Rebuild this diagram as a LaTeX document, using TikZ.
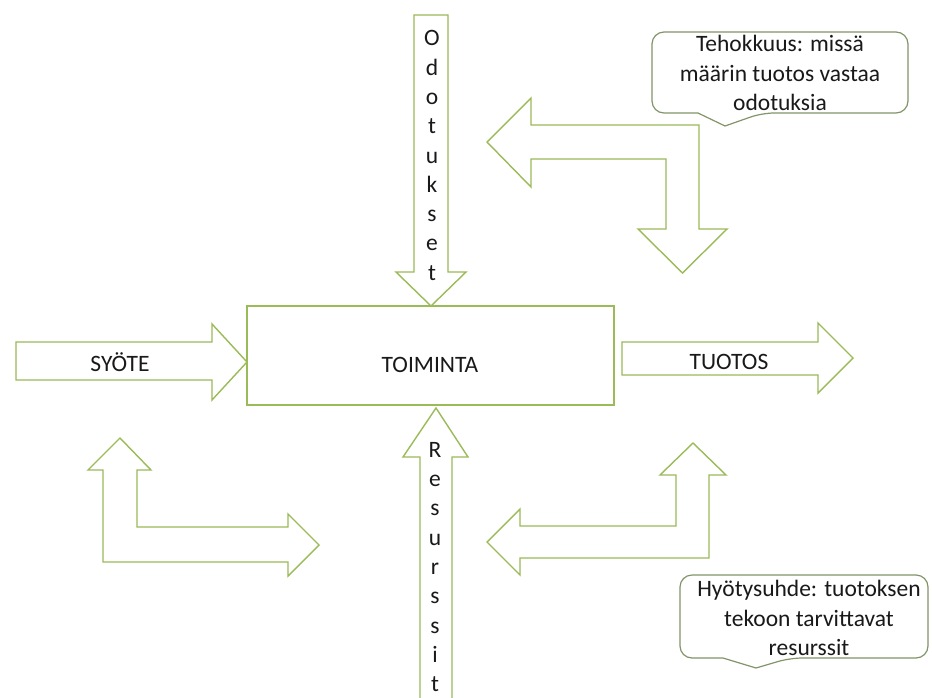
\documentclass[tikz,border=0pt]{standalone}
\usepackage{fontspec}
\setmainfont{Carlito}
\definecolor{arrowgreen}{RGB}{155,187,89}
\definecolor{calloutline}{RGB}{130,148,105}
\definecolor{txtgray}{RGB}{25,25,25}
\begin{document}
\begin{tikzpicture}[x=1pt,y=-1pt,
  blockarrow/.style={draw=arrowgreen, line width=1.4pt, fill=white, line join=miter},
  calloutbox/.style={draw=calloutline, line width=1.2pt, fill=white},
  txt/.style={text=txtgray, font=\fontsize{23.5}{29.3}\selectfont, inner sep=0pt},
  vtxt/.style={txt, align=center}]
\fill[white] (0,0) rectangle (932,697);
\useasboundingbox (0,0) rectangle (932,697);

% central box
\node[draw=arrowgreen, line width=1.4pt, minimum width=367pt, minimum height=99pt, inner sep=0pt] (box) at (430.5,355.5) {};
\node[txt] (toiminta) at (430,365) {TOIMINTA};

% SYOTE arrow
\draw[blockarrow] (16,342) -- (212,342) -- (212,324) -- (247,362) -- (212,400) -- (212,380) -- (16,380) -- cycle;
\node[txt] (syote) at (120,362) {SYÖTE};

% TUOTOS arrow
\draw[blockarrow] (622,342) -- (818,342) -- (818,323) -- (853,358) -- (818,393) -- (818,375) -- (622,375) -- cycle;
\node[txt] (tuotos) at (729,362) {TUOTOS};

% Odotukset arrow
\draw[blockarrow] (414,15) -- (448,15) -- (448,272) -- (466,272) -- (431,306) -- (396,272) -- (414,272) -- cycle;
\node[vtxt] (odotukset) at (432,155.5) {O\\d\\o\\t\\u\\k\\s\\e\\t};

% Resurssit arrow
\draw[blockarrow] (420,698) -- (420,457) -- (403,457) -- (436,408) -- (468,457) -- (452,457) -- (452,698);
\node[vtxt] (resurssit) at (435,567) {R\\e\\s\\u\\r\\s\\s\\i\\t};

% top-right bent arrow
\draw[blockarrow] (487,142) -- (531,98) -- (531,125) -- (699,125) -- (699,229) -- (727,229) -- (682.5,273) -- (638,229) -- (666,229) -- (666,159) -- (531,159) -- (531,187) -- cycle;

% bottom-left bent arrow
\draw[blockarrow] (120,438) -- (151,470) -- (137,470) -- (137,527) -- (288,527) -- (288,514) -- (319,545) -- (288,576) -- (288,562) -- (103,562) -- (103,470) -- (88,470) -- cycle;

% bottom-right bent arrow
\draw[blockarrow] (693,443) -- (726,475) -- (709,475) -- (709,558) -- (520,558) -- (520,575) -- (487,542) -- (520,509) -- (520,526) -- (676,526) -- (676,475) -- (660,475) -- cycle;

% callouts
\draw[calloutbox, rounded corners=12pt] (652,32) -- (908,32) -- (908,113) -- (762,113) [sharp corners] -- (725,126) -- (698,113) [rounded corners=12pt] -- (652,113) -- cycle;
\node[vtxt] (tehokkuus) at (780,73) {Tehokkuus: missä\\määrin tuotos vastaa\\odotuksia};

\draw[calloutbox, rounded corners=12pt] (680,575) -- (928,575) -- (928,658) -- (790,658) [sharp corners] -- (756,668) -- (723,658) [rounded corners=12pt] -- (680,658) -- cycle;
\node[vtxt] (hyotysuhde) at (809,618) {Hyötysuhde: tuotoksen\\tekoon tarvittavat\\resurssit};
\end{tikzpicture}
\end{document}
